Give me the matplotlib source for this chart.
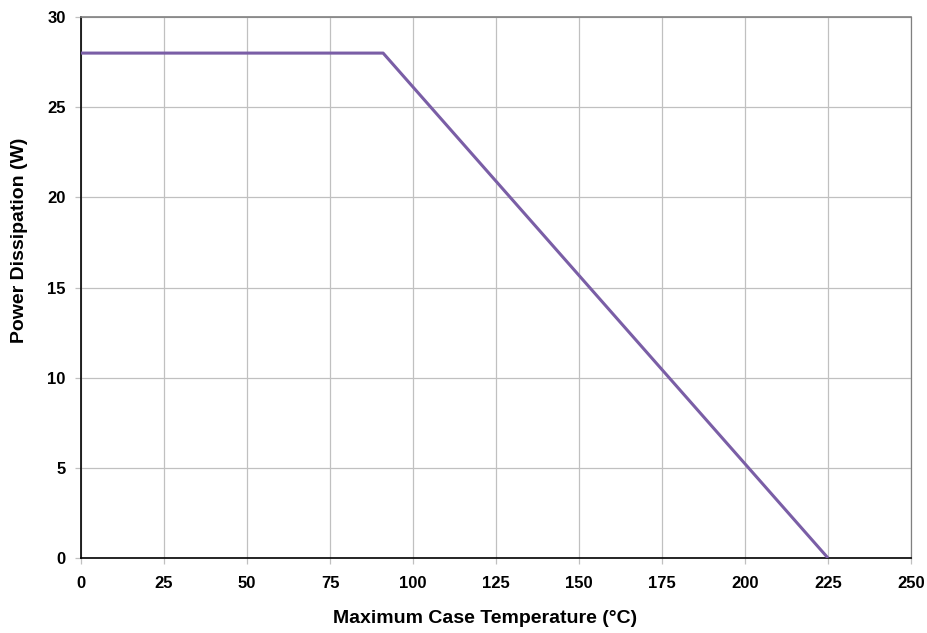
import matplotlib
matplotlib.use("Agg")
import matplotlib.pyplot as plt

# derating curve data
temp_c = [0, 91, 225]
power_w = [28, 28, 0]
x_ticks = [0, 25, 50, 75, 100, 125, 150, 175, 200, 225, 250]
y_ticks = [0, 5, 10, 15, 20, 25, 30]

plt.rcParams['font.family'] = ['Liberation Sans', 'DejaVu Sans']

fig = plt.figure(figsize=(9.27, 6.33), dpi=100)
ax = fig.add_axes([0.0874, 0.1185, 0.8953, 0.8546])

ax.plot(temp_c, power_w, color='#7a5ea6', linewidth=2.2, solid_capstyle='butt', zorder=3)

ax.set_xlim(0, 250)
ax.set_ylim(0, 30)
ax.set_xticks(x_ticks)
ax.set_yticks(y_ticks)
ax.grid(True, color='#c0c0c0', linewidth=0.9)
ax.set_axisbelow(True)

ax.tick_params(axis='both', length=4, width=0.9, color='#c0c0c0', labelsize=12)
ax.tick_params(axis='x', pad=9)
ax.tick_params(axis='y', pad=7)
for lab in ax.get_xticklabels() + ax.get_yticklabels():
    lab.set_fontweight('bold')

ax.spines['left'].set_color('black')
ax.spines['bottom'].set_color('black')
ax.spines['left'].set_linewidth(1.2)
ax.spines['bottom'].set_linewidth(1.2)
ax.spines['top'].set_color('#808080')
ax.spines['right'].set_color('#808080')
ax.spines['top'].set_linewidth(1.2)
ax.spines['right'].set_linewidth(0.9)

ax.set_xlabel('Maximum Case Temperature (°C)', fontsize=14, fontweight='bold')
ax.set_ylabel('Power Dissipation (W)', fontsize=14, fontweight='bold')
ax.xaxis.set_label_coords(0.487, -0.096)
ax.yaxis.set_label_coords(-0.064, 0.588)

fig.savefig('out.png', dpi=100)
